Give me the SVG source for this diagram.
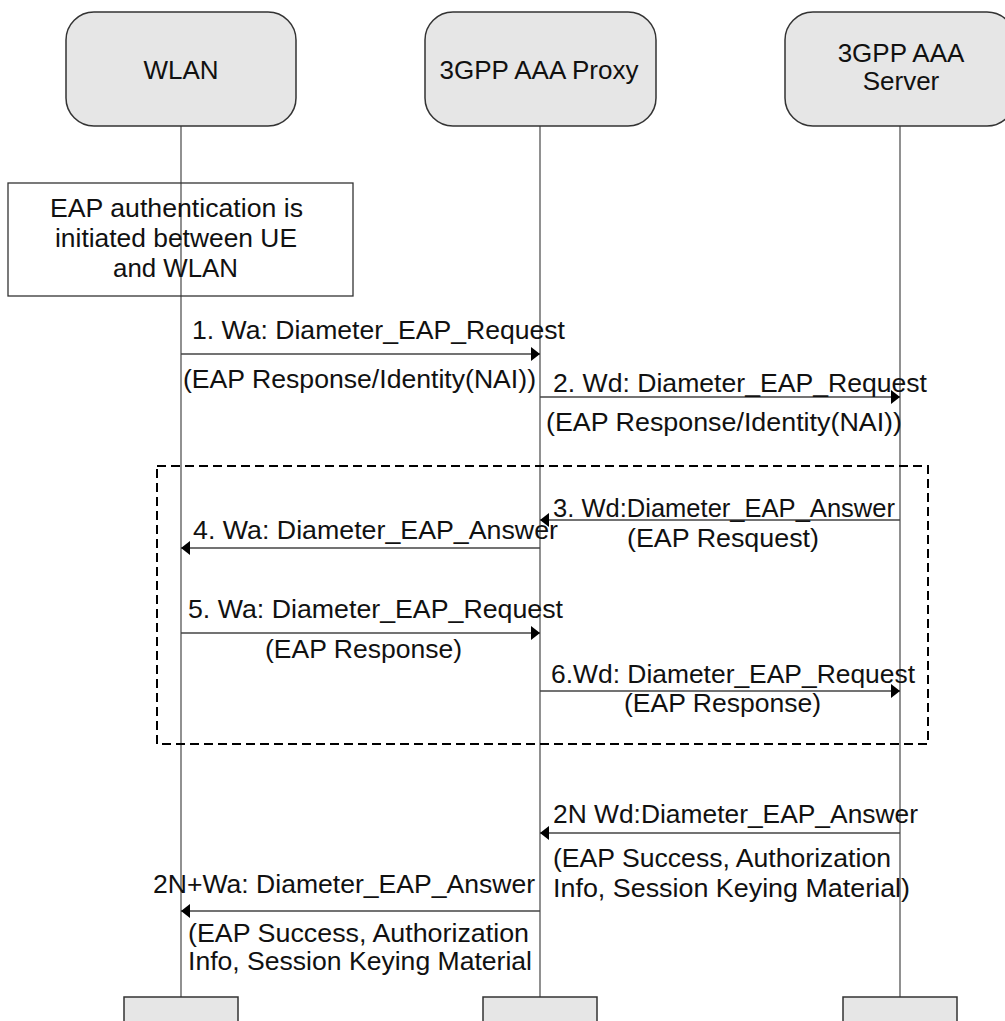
<svg xmlns="http://www.w3.org/2000/svg" width="1005" height="1021" viewBox="0 0 1005 1021">
<defs>
<style>
.node{fill:#e6e6e6;stroke:#333;stroke-width:1.5}
.nl{font-family:"Liberation Sans",Arial,sans-serif;font-size:26px;fill:#111;text-anchor:middle}
.t{font-family:"Liberation Sans",Arial,sans-serif;font-size:25px;fill:#111;lengthAdjust:spacingAndGlyphs}
.life{stroke:#555;stroke-width:1.3;fill:none}
.msg{stroke:#444;stroke-width:1.5;fill:none;marker-end:url(#ah)}
</style>
<marker id="ah" markerUnits="userSpaceOnUse" markerWidth="9" markerHeight="14" refX="9" refY="7" orient="auto">
<path d="M0,0 L9,7 L0,14 z" fill="#000"/>
</marker>
</defs>
<rect width="1005" height="1021" fill="#fff"/>

<g id="lifelines">
<line class="life" x1="181" y1="126" x2="181" y2="997"/>
<line class="life" x1="540" y1="126" x2="540" y2="997"/>
<line class="life" x1="900" y1="126" x2="900" y2="997"/>
</g>

<g id="wlan">
<rect class="node" x="66" y="12" width="230" height="114" rx="28" ry="28"/>
<text class="nl" x="181" y="79">WLAN</text>
</g>
<g id="proxy">
<rect class="node" x="425" y="12" width="231" height="114" rx="28" ry="28"/>
<text class="nl" x="539" y="79">3GPP AAA Proxy</text>
</g>
<g id="server">
<rect class="node" x="785" y="12" width="230" height="114" rx="28" ry="28"/>
<text class="nl" x="901" y="62">3GPP AAA</text>
<text class="nl" x="901" y="90">Server</text>
</g>

<g id="wlan-end"><rect class="node" x="124" y="997" width="114" height="30"/></g>
<g id="proxy-end"><rect class="node" x="483" y="997" width="114" height="30"/></g>
<g id="server-end"><rect class="node" x="843" y="997" width="114" height="30"/></g>

<g id="eap-note">
<rect x="8" y="183" width="345" height="113" fill="none" stroke="#333" stroke-width="1.3"/>
<text class="t" x="50" y="217" textLength="253" lengthAdjust="spacingAndGlyphs">EAP authentication is</text>
<text class="t" x="55" y="247" textLength="242" lengthAdjust="spacingAndGlyphs">initiated between UE</text>
<text class="t" x="113" y="277" textLength="125" lengthAdjust="spacingAndGlyphs">and WLAN</text>
</g>

<g id="loop">
<rect x="157" y="466" width="771" height="278" fill="none" stroke="#000" stroke-width="2" stroke-dasharray="9,5"/>
</g>

<g id="connectors">
<line class="msg" x1="181" y1="354" x2="540" y2="354"/>
<line class="msg" x1="540" y1="397" x2="900" y2="397"/>
<line class="msg" x1="900" y1="520" x2="540" y2="520"/>
<line class="msg" x1="540" y1="548" x2="181" y2="548"/>
<line class="msg" x1="181" y1="633" x2="540" y2="633"/>
<line class="msg" x1="540" y1="691" x2="900" y2="691"/>
<line class="msg" x1="900" y1="833" x2="540" y2="833"/>
<line class="msg" x1="540" y1="911" x2="181" y2="911"/>
</g>

<g id="labels">
<text class="t" x="192" y="339" textLength="373" lengthAdjust="spacingAndGlyphs">1. Wa: Diameter_EAP_Request</text>
<text class="t" x="183" y="388" textLength="353" lengthAdjust="spacingAndGlyphs">(EAP Response/Identity(NAI))</text>
<text class="t" x="553" y="392" textLength="374" lengthAdjust="spacingAndGlyphs">2. Wd: Diameter_EAP_Request</text>
<text class="t" x="546" y="431" textLength="356" lengthAdjust="spacingAndGlyphs">(EAP Response/Identity(NAI))</text>
<text class="t" x="553" y="517" textLength="342" lengthAdjust="spacingAndGlyphs">3. Wd:Diameter_EAP_Answer</text>
<text class="t" x="627" y="547" textLength="192" lengthAdjust="spacingAndGlyphs">(EAP Resquest)</text>
<text class="t" x="193" y="539" textLength="365" lengthAdjust="spacingAndGlyphs">4. Wa: Diameter_EAP_Answer</text>
<text class="t" x="188" y="618" textLength="375" lengthAdjust="spacingAndGlyphs">5. Wa: Diameter_EAP_Request</text>
<text class="t" x="265" y="658" textLength="197" lengthAdjust="spacingAndGlyphs">(EAP Response)</text>
<text class="t" x="551" y="683" textLength="364" lengthAdjust="spacingAndGlyphs">6.Wd: Diameter_EAP_Request</text>
<text class="t" x="624" y="712" textLength="197" lengthAdjust="spacingAndGlyphs">(EAP Response)</text>
<text class="t" x="553" y="823" textLength="365" lengthAdjust="spacingAndGlyphs">2N Wd:Diameter_EAP_Answer</text>
<text class="t" x="553" y="867" textLength="338" lengthAdjust="spacingAndGlyphs">(EAP Success, Authorization</text>
<text class="t" x="553" y="897" textLength="357" lengthAdjust="spacingAndGlyphs">Info, Session Keying Material)</text>
<text class="t" x="153" y="893" textLength="382" lengthAdjust="spacingAndGlyphs">2N+Wa: Diameter_EAP_Answer</text>
<text class="t" x="188" y="942" textLength="341" lengthAdjust="spacingAndGlyphs">(EAP Success, Authorization</text>
<text class="t" x="188" y="970" textLength="344" lengthAdjust="spacingAndGlyphs">Info, Session Keying Material</text>
</g>
</svg>
